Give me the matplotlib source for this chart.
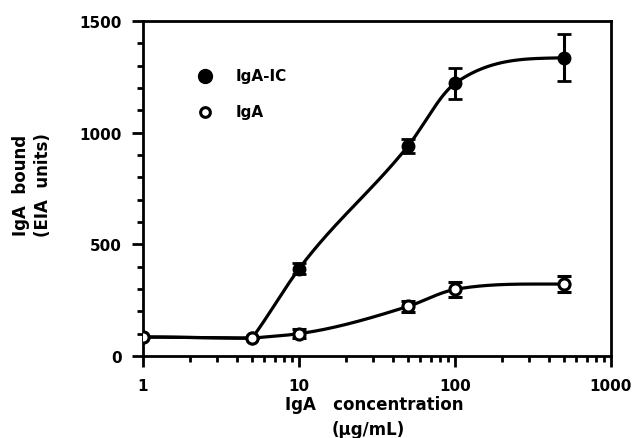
import numpy as np
import matplotlib
matplotlib.use("Agg")
import matplotlib.pyplot as plt

plt.rcParams['font.family'] = ['DejaVu Sans']
plt.rcParams['font.weight'] = 'bold'

conc = [1, 5, 10, 50, 100, 500]
igaic = [85, 80, 390, 940, 1220, 1335]
igaic_err = [0, 0, 25, 30, 70, 105]
iga = [85, 80, 100, 222, 298, 322]
iga_err = [0, 0, 20, 25, 32, 35]


def smooth(x, y, xs):
    # cubic hermite through the points, corner where the trend turns
    x = np.asarray(x, float)
    y = np.asarray(y, float)
    h = np.diff(x)
    d = np.diff(y) / h
    ml = np.zeros_like(y)
    mr = np.zeros_like(y)
    for k in range(1, len(x) - 1):
        if d[k - 1] * d[k] > 0:
            w1 = 2 * h[k] + h[k - 1]
            w2 = h[k] + 2 * h[k - 1]
            harm = (w1 + w2) / (w1 / d[k - 1] + w2 / d[k])
            avg = (d[k - 1] * h[k] + d[k] * h[k - 1]) / (h[k] + h[k - 1])
            ml[k] = mr[k] = 0.5 * (harm + avg)
        else:
            ml[k] = 0
            mr[k] = d[k] * 0.9
    ml[-1] = d[-1] * 0.1
    out = np.empty_like(xs)
    for i, xv in enumerate(xs):
        k = min(np.searchsorted(x, xv, side='right') - 1, len(x) - 2)
        t = (xv - x[k]) / h[k]
        h00 = 2 * t**3 - 3 * t**2 + 1
        h10 = t**3 - 2 * t**2 + t
        h01 = -2 * t**3 + 3 * t**2
        h11 = t**3 - t**2
        out[i] = h00 * y[k] + h10 * h[k] * mr[k] + h01 * y[k + 1] + h11 * h[k] * ml[k + 1]
    return out


fig = plt.figure(figsize=(6.37, 4.39), dpi=100)
ax = fig.add_axes([0.2245, 0.1868, 0.7345, 0.7632])

lx = np.log10(conc)
xs = np.linspace(lx[0], lx[-1], 500)
ax.plot(10**xs, smooth(lx, igaic, xs), color='black', lw=2.3, zorder=2)
ax.plot(10**xs, smooth(lx, iga, xs), color='black', lw=2.3, zorder=2)

ax.errorbar(conc, igaic, yerr=igaic_err, fmt='o', color='black', ms=9,
            capsize=5, capthick=2, elinewidth=2.2, zorder=3)
ax.errorbar(conc, iga, yerr=iga_err, fmt='o', color='black', mfc='white',
            mec='black', mew=2.2, ms=8, capsize=5, capthick=2,
            elinewidth=2.2, zorder=4)

ax.set_xscale('log')
ax.set_xlim(1, 1000)
ax.set_ylim(0, 1500)
ax.set_yticks([0, 500, 1000, 1500])
ax.set_yticks(np.arange(0, 1501, 100), minor=True)
ax.set_xticks([1, 10, 100, 1000])
ax.set_xticklabels(['1', '10', '100', '1000'])

for s in ax.spines.values():
    s.set_linewidth(2)
ax.tick_params(which='major', direction='out', length=8, width=2,
               labelsize=11, pad=7)
ax.tick_params(which='minor', direction='out', length=4, width=2)
ax.tick_params(axis='x', which='major', pad=8)

# legend drawn by hand
ax.plot([2.5], [1254], 'o', color='black', ms=10)
ax.plot([2.5], [1093], 'o', color='black', mfc='white', mew=2.2, ms=7)
ax.text(3.9, 1254, 'IgA-IC', fontsize=11, fontweight='bold', va='center')
ax.text(3.9, 1093, 'IgA', fontsize=11, fontweight='bold', va='center')

fig.text(374 / 637, 1 - 405 / 439, 'IgA   concentration', fontsize=12,
         fontweight='bold', ha='center', va='center')
fig.text(368 / 637, 1 - 430 / 439, '(\u03bcg/mL)', fontsize=12,
         fontweight='bold', ha='center', va='center')
fig.text(32 / 637, 1 - 185 / 439, 'IgA  bound\n(EIA  units)', fontsize=12,
         fontweight='bold', ha='center', va='center', rotation=90,
         linespacing=1.3, multialignment='center')

fig.savefig('out.png', dpi=100)
